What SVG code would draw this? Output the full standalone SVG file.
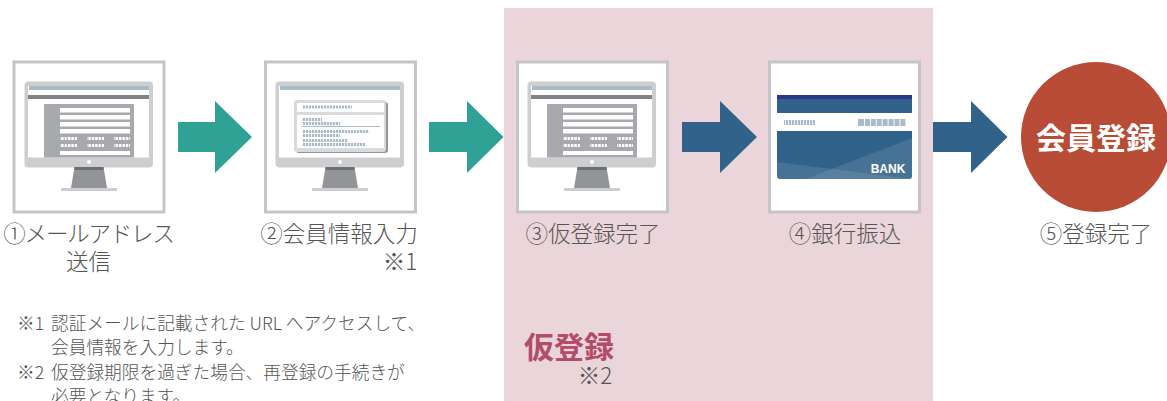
<svg xmlns="http://www.w3.org/2000/svg" width="1167" height="401" viewBox="0 0 1167 401">
<style>
text{font-family:"Noto Sans CJK JP","Noto Sans",sans-serif;fill:#555}
.lb{font-size:22.500px;font-weight:300}
.nt{font-size:17.700px;font-weight:300}
.fr{fill:#fff;stroke:#c3c5c8;stroke-width:3}
.w{fill:#fff}
.tl{fill:#2fa295}
.bl{fill:#31628a}
.bd{fill:#a9bcc6}
</style>
<defs>
<pattern id="d1" width="3.4" height="3" patternUnits="userSpaceOnUse"><rect width="2.4" height="3" fill="#fff"/></pattern>
<pattern id="d2" width="3" height="4" patternUnits="userSpaceOnUse"><rect width="2.2" height="4" fill="#a9bcc6"/></pattern>
<pattern id="d3" x="865" width="5.900" height="7" patternUnits="userSpaceOnUse"><rect width="5" height="7" fill="#a9bcc6"/></pattern>
<g id="monitor">
<rect x="24.500" y="81.500" width="128.500" height="86" rx="4" fill="#cdced0"/>
<rect x="28" y="86" width="121" height="71.500" fill="#fff"/>
<polygon points="74.500,167 103.500,167 107,188 71,188" fill="#929497"/>
<rect x="74.500" y="167" width="29" height="3" fill="#6d6e71"/>
<rect x="61" y="188" width="56" height="3" fill="#cdced0"/>
<circle cx="89" cy="162" r="2" fill="#fff"/>
<rect x="29" y="86" width="120" height="4" fill="#a9bcc6"/>
</g>
<g id="form">
<rect x="28" y="95" width="121" height="4" fill="#808285"/>
<rect x="44" y="104" width="90" height="53.500" fill="#a7a9ac"/>
<rect class="w" x="60" y="108" width="70" height="4.500"/>
<rect class="w" x="60" y="115" width="70" height="4.500"/>
<rect class="w" x="60" y="122" width="70" height="4.500"/>
<rect class="w" x="60" y="129" width="70" height="4.500"/>
<rect x="60" y="137" width="17" height="3" fill="url(#d1)"/><rect x="87" y="137" width="17" height="3" fill="url(#d1)"/><rect x="114" y="137" width="16" height="3" fill="url(#d1)"/>
<rect x="60" y="144" width="17" height="3" fill="url(#d1)"/><rect x="87" y="144" width="17" height="3" fill="url(#d1)"/><rect x="114" y="144" width="16" height="3" fill="url(#d1)"/>
<rect class="w" x="60" y="151" width="70" height="4"/>
</g>
</defs>
<rect x="504" y="8" width="429" height="393" fill="#ead5da"/>
<g id="node1">
<rect class="fr" x="14" y="62" width="150" height="150"/>
<use href="#monitor"/><use href="#form"/>
<text class="lb" x="88.500" y="242" text-anchor="middle" letter-spacing="-1.200">①メールアドレス</text>
<text class="lb" x="88.500" y="270" text-anchor="middle">送信</text>
</g>
<g id="node2">
<rect class="fr" x="265.500" y="62" width="150" height="150"/>
<use href="#monitor" x="251"/>
<rect x="296" y="102" width="92" height="51" rx="3" fill="#929497"/>
<rect x="294" y="100" width="92" height="52" rx="3" fill="#d9dadb"/>
<rect class="w" x="297" y="103" width="87" height="9" rx="1"/>
<rect class="w" x="297" y="115" width="87" height="33" rx="1"/>
<rect x="302" y="105.500" width="50" height="3" fill="url(#d2)"/>
<rect x="302" y="118" width="20" height="3" fill="url(#d2)"/>
<rect x="302" y="122" width="38" height="3" fill="url(#d2)"/>
<rect x="302" y="126" width="78" height="1" fill="#a9bcc6"/>
<rect x="302" y="130" width="67" height="3" fill="url(#d2)"/>
<rect x="302" y="134" width="38" height="3" fill="url(#d2)"/>
<rect x="302" y="139" width="46" height="3" fill="url(#d2)"/>
<rect x="302" y="143" width="64" height="3" fill="url(#d2)"/>
<text class="lb" x="339" y="242" text-anchor="middle">②会員情報入力</text>
<text class="lb" x="400" y="270" text-anchor="middle">※1</text>
</g>
<g id="node3">
<rect class="fr" x="517.500" y="62" width="150" height="150"/>
<use href="#monitor" x="503"/><use href="#form" x="503"/>
<text class="lb" x="593" y="242" text-anchor="middle">③仮登録完了</text>
</g>
<g id="node4">
<rect class="fr" x="769.500" y="62" width="150" height="150"/>
<path d="M777 95H912V176a3 3 0 0 1-3 3H780a3 3 0 0 1-3-3Z" fill="#31628a"/>
<rect x="777" y="95" width="135" height="4" fill="#2c3688"/>
<rect class="w" x="777" y="113" width="135" height="18"/>
<path d="M806 179L912 138V176a3 3 0 0 1-3 3Z" fill="#fff" opacity=".1"/>
<path d="M777 162L912 179H780a3 3 0 0 1-3-3Z" fill="#fff" opacity=".1"/>
<rect x="784" y="120" width="31" height="5" fill="url(#d2)"/>
<rect x="858" y="119" width="6" height="7" class="bd"/><rect x="865" y="119" width="41" height="7" fill="url(#d3)"/>
<text x="888" y="173" text-anchor="middle" style="font-family:'Liberation Sans',sans-serif;font-weight:700;font-size:12px;fill:#fff">BANK</text>
<text class="lb" x="845" y="242" text-anchor="middle">④銀行振込</text>
</g>
<g id="node5">
<circle cx="1096" cy="137" r="75" fill="#b94c37"/>
<text x="1096" y="149" text-anchor="middle" style="font-size:30px;font-weight:700;fill:#fff">会員登録</text>
<text class="lb" x="1096" y="242" text-anchor="middle">⑤登録完了</text>
</g>
<g id="connectors">
<polygon class="tl" points="178,122 215,122 215,101 252,137 215,173 215,152 178,152"/>
<polygon class="tl" points="429,122 467,122 467,101 503.500,137 467,173 467,152 429,152"/>
<polygon class="bl" points="682,122 720,122 720,101 757,137 720,173 720,152 682,152"/>
<polygon class="bl" points="933,122 971,122 971,101 1007.500,137 971,173 971,152 933,152"/>
</g>
<g id="notes">
<text class="nt" x="17" y="330">※1</text><text class="nt" x="51" y="330">認証メールに記載された URL へアクセスして、</text>
<text class="nt" x="51" y="354">会員情報を入力します。</text>
<text class="nt" x="17" y="378.500">※2</text><text class="nt" x="51" y="378.500">仮登録期限を過ぎた場合、再登録の手続きが</text>
<text class="nt" x="51" y="403">必要となります。</text>
</g>
<g id="group-label">
<text x="524" y="358" style="font-size:30px;font-weight:700;fill:#b34b6b">仮登録</text>
<text class="lb" x="595" y="384" text-anchor="middle">※2</text>
</g>
</svg>
